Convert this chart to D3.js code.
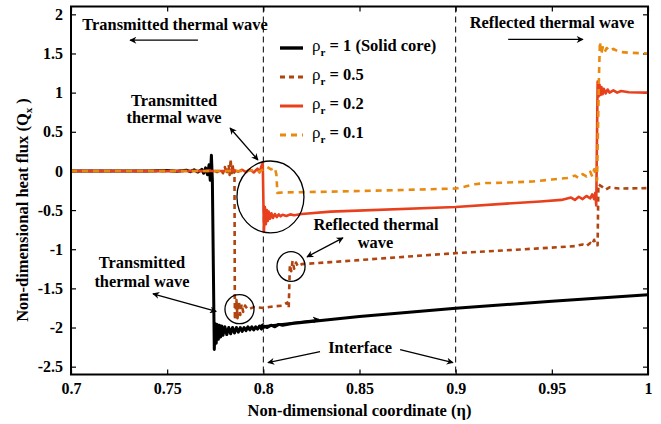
<!DOCTYPE html>
<html>
<head>
<meta charset="utf-8">
<script src="https://cdn.jsdelivr.net/npm/d3@7"></script>
<style>
  html, body { margin: 0; padding: 0; background: #fff; }
  svg { display: block; }
</style>
</head>
<body>
<svg id="chart" width="661" height="424"></svg>
<script>
// Heat flux profiles (eta, Qx) for each density ratio
const solidCore = [
  [0.700,0],[0.740,0],[0.750,0.005],[0.755,-0.005],[0.760,0.01],[0.762,-0.01],[0.764,0.015],[0.766,-0.015],
  [0.768,0.02],[0.769,-0.03],[0.770,0.04],[0.771,-0.05],[0.7718,0.08],[0.7724,-0.12],[0.7730,0.2],[0.7735,-0.12],
  [0.7740,-1.2],[0.7745,-2.28],[0.7750,-1.95],[0.7755,-2.2],[0.7760,-1.96],[0.7766,-2.15],[0.7772,-1.97],
  [0.7778,-2.12],[0.7784,-1.98],[0.779,-2.1],[0.780,-1.99],[0.781,-2.09],[0.782,-2.0],[0.783,-2.08],[0.784,-2.0],
  [0.785,-2.07],[0.786,-2.0],[0.787,-2.06],[0.788,-2.0],[0.789,-2.05],[0.790,-2.0],[0.791,-2.04],[0.792,-1.99],
  [0.793,-2.03],[0.794,-1.99],[0.795,-2.03],[0.796,-1.99],[0.797,-2.02],[0.798,-1.98],[0.799,-2.02],[0.800,-1.98],
  [0.802,-2.0],[0.804,-1.97],[0.806,-1.99],[0.808,-1.96],[0.810,-1.97],[0.815,-1.95],[0.850,-1.86],[0.900,-1.755],
  [0.950,-1.665],[1.000,-1.58]
];
const rho05 = [
  [0.700,0],[0.770,0],[0.774,0.01],[0.776,-0.015],[0.778,0.025],[0.779,-0.03],[0.780,0.05],[0.781,-0.04],
  [0.782,0.08],[0.7825,-0.05],[0.7830,0.15],[0.7835,-0.05],[0.7840,0.09],[0.7845,-0.04],[0.7850,0.0],
  [0.7852,-1.9],[0.7860,-1.65],[0.7866,-1.88],[0.7873,-1.67],[0.7880,-1.84],[0.7887,-1.7],[0.7895,-1.8],
  [0.7905,-1.72],[0.792,-1.77],[0.795,-1.74],[0.800,-1.75],[0.805,-1.73],[0.810,-1.72],[0.8125,-1.68],
  [0.8132,-1.75],[0.8138,-1.2],[0.8145,-1.28],[0.8152,-1.15],[0.816,-1.25],[0.817,-1.17],[0.818,-1.22],
  [0.820,-1.19],[0.835,-1.165],[0.900,-1.05],[0.950,-0.98],[0.962,-0.96],[0.966,-0.94],[0.968,-0.96],
  [0.970,-0.92],[0.971,-0.94],[0.972,-0.88],[0.9728,-0.95],[0.9738,-0.95],[0.9742,-0.17],[0.976,-0.2],
  [0.978,-0.24],[0.980,-0.21],[0.985,-0.225],[1.000,-0.22]
];
const rho02 = [
  [0.700,0],[0.780,0],[0.785,0.01],[0.787,-0.01],[0.789,0.015],[0.791,-0.015],[0.793,0.02],[0.795,-0.02],
  [0.797,0.03],[0.798,-0.02],[0.799,0.06],[0.7997,0.1],[0.8003,-0.78],[0.8008,-0.46],[0.8013,-0.68],
  [0.8018,-0.5],[0.8023,-0.64],[0.8028,-0.52],[0.8035,-0.61],[0.8042,-0.54],[0.805,-0.6],[0.806,-0.55],
  [0.807,-0.59],[0.808,-0.555],[0.809,-0.58],[0.810,-0.56],[0.812,-0.575],[0.814,-0.555],[0.816,-0.565],
  [0.820,-0.55],[0.835,-0.52],[0.900,-0.46],[0.944,-0.39],[0.955,-0.37],[0.960,-0.34],[0.962,-0.37],
  [0.964,-0.33],[0.966,-0.36],[0.968,-0.32],[0.970,-0.35],[0.971,-0.3],[0.972,-0.36],[0.9726,-0.28],
  [0.9731,-0.44],[0.9738,1.14],[0.9743,0.95],[0.9748,1.1],[0.9753,0.97],[0.9758,1.07],[0.9764,0.98],
  [0.977,1.05],[0.978,0.99],[0.979,1.04],[0.980,1.0],[0.982,1.03],[0.984,1.0],[0.986,1.02],[0.990,1.005],
  [1.000,1.0]
];
const rho01 = [
  [0.700,0],[0.790,0],[0.795,0.01],[0.798,-0.01],[0.800,0.02],[0.802,0.05],[0.804,0.02],[0.806,0.04],
  [0.8068,-0.05],[0.8073,-0.28],[0.810,-0.275],[0.835,-0.265],[0.870,-0.245],[0.900,-0.225],[0.905,-0.2],
  [0.910,-0.17],[0.915,-0.155],[0.925,-0.15],[0.940,-0.135],[0.950,-0.11],[0.958,-0.09],[0.962,-0.06],
  [0.964,-0.09],[0.966,-0.04],[0.968,-0.07],[0.970,-0.01],[0.971,-0.07],[0.972,0.02],[0.9735,-0.12],
  [0.9745,1.2],[0.9750,1.65],[0.9757,1.5],[0.9765,1.58],[0.9775,1.52],[0.9785,1.57],[0.980,1.53],
  [0.982,1.56],[0.985,1.52],[0.990,1.51],[1.000,1.5]
];

const xTicks = [0.7, 0.75, 0.8, 0.85, 0.9, 0.95, 1];
const xTickLabels = ["0.7", "0.75", "0.8", "0.85", "0.9", "0.95", "1"];
const yTicks = [-2.5, -2, -1.5, -1, -0.5, 0, 0.5, 1, 1.5, 2];
const yTickLabels = ["-2.5", "-2", "-1.5", "-1", "-0.5", "0", "0.5", "1", "1.5", "2"];
const interfaces = [0.8, 0.9];

const seriesNames = ["1 (Solid core)", "0.5", "0.2", "0.1"];
const seriesData = [solidCore, rho05, rho02, rho01];
const seriesColors = ["#000000", "#b0450f", "#e8401c", "#e98a10"];
const seriesWidths = [3, 2.6, 2.6, 2.6];
const seriesDash = [null, "5,4", null, "6,5"];

const FONT = '"Liberation Serif", "Times New Roman", serif';
const svg = d3.select("#chart");
const plotLeft = 71, plotRight = 648, plotTop = 6.5, plotBottom = 374.5;

const x = d3.scaleLinear().domain([0.7, 1]).range([plotLeft, plotRight]);
const y = d3.scaleLinear().domain([-2.6, 2.1]).range([plotBottom, plotTop]);

function styleText(sel, size) {
  return sel.style("font-family", FONT).style("font-weight", "bold").style("font-size", size + "px").attr("fill", "#000");
}

// arrowhead markers
const defs = svg.append("defs");
defs.append("marker").attr("id", "head").attr("viewBox", "0 0 10 10")
  .attr("refX", 9).attr("refY", 5).attr("markerWidth", 10).attr("markerHeight", 7)
  .attr("markerUnits", "userSpaceOnUse").attr("orient", "auto-start-reverse")
  .append("path").attr("d", "M0,0 L10,5 L0,10 L3,5 Z").attr("fill", "#000");

// axes with inward ticks on all four sides
const fmtX = d => xTickLabels[xTicks.indexOf(d)];
const fmtY = d => yTickLabels[yTicks.indexOf(d)];
const gx = svg.append("g").attr("transform", `translate(0,${plotBottom})`)
  .call(d3.axisBottom(x).tickValues(xTicks).tickFormat(fmtX).tickSizeInner(-5).tickSizeOuter(0).tickPadding(8));
const gxTop = svg.append("g").attr("transform", `translate(0,${plotTop})`)
  .call(d3.axisTop(x).tickValues(xTicks).tickFormat("").tickSizeInner(-5).tickSizeOuter(0));
const gy = svg.append("g").attr("transform", `translate(${plotLeft},0)`)
  .call(d3.axisLeft(y).tickValues(yTicks).tickFormat(fmtY).tickSizeInner(-5).tickSizeOuter(0).tickPadding(8));
const gyRight = svg.append("g").attr("transform", `translate(${plotRight},0)`)
  .call(d3.axisRight(y).tickValues(yTicks).tickFormat("").tickSizeInner(-5).tickSizeOuter(0));
[gx, gxTop, gy, gyRight].forEach(g => {
  g.select(".domain").remove();
  g.selectAll(".tick line").attr("stroke", "#000").attr("stroke-width", 1.2);
  styleText(g.selectAll("text"), 16);
});

// interface lines
svg.append("g").selectAll("line").data(interfaces).join("line")
  .attr("x1", d => x(d)).attr("x2", d => x(d)).attr("y1", plotTop).attr("y2", plotBottom)
  .attr("stroke", "#000").attr("stroke-width", 1).attr("stroke-dasharray", "6,4");

// curves
const line = d3.line().x(d => x(d[0])).y(d => y(d[1]));
const plot = svg.append("g");
seriesData.forEach((s, i) => {
  plot.append("path").datum(s).attr("d", line).attr("fill", "none")
    .attr("stroke", seriesColors[i]).attr("stroke-width", seriesWidths[i])
    .attr("stroke-dasharray", seriesDash[i]).attr("stroke-linejoin", "round");
});

// frame
svg.append("rect").attr("x", plotLeft).attr("y", plotTop)
  .attr("width", plotRight - plotLeft).attr("height", plotBottom - plotTop)
  .attr("fill", "none").attr("stroke", "#000").attr("stroke-width", 2);

// annotation circles (centre eta, centre Qx, half-width in eta, half-height in Qx)
const rings = [[0.8037, -0.332, 0.01742, 0.459], [0.8144, -1.221, 0.0073, 0.19], [0.7876, -1.766, 0.00755, 0.185]];
svg.append("g").selectAll("ellipse").data(rings).join("ellipse")
  .attr("cx", d => x(d[0])).attr("cy", d => y(d[1]))
  .attr("rx", d => x(d[0] + d[2]) - x(d[0])).attr("ry", d => y(d[1] - d[3]) - y(d[1]))
  .attr("fill", "none").attr("stroke", "#000").attr("stroke-width", 1.3);

// annotation arrows: [from eta, from Q, to eta, to Q, double-headed]
const arrows = [
  [0.7660, 1.67, 0.7307, 1.67, false],
  [0.9273, 1.68, 0.9662, 1.68, false],
  [0.7827, 0.548, 0.7972, 0.14, true],
  [0.7426, -1.569, 0.7755, -1.795, true],
  [0.8227, -1.097, 0.8414, -0.855, true],
  [0.7975, -1.985, 0.8290, -1.895, true],
  [0.8295, -2.309, 0.8024, -2.449, false],
  [0.8711, -2.283, 0.8986, -2.449, false]
];
const ag = svg.append("g");
arrows.forEach(a => {
  ag.append("line").attr("x1", x(a[0])).attr("y1", y(a[1])).attr("x2", x(a[2])).attr("y2", y(a[3]))
    .attr("stroke", "#000").attr("stroke-width", 1.3)
    .attr("marker-end", "url(#head)").attr("marker-start", a[4] ? "url(#head)" : null);
});

// annotation labels: [eta, Q, text]
const notes = [
  [0.7541, 1.80, "Transmitted thermal wave"],
  [0.9501, 1.82, "Reflected thermal wave"],
  [0.7536, 0.835, "Transmitted"],
  [0.7536, 0.606, "thermal wave"],
  [0.7369, -1.244, "Transmitted"],
  [0.7369, -1.486, "thermal wave"],
  [0.8586, -0.759, "Reflected thermal"],
  [0.8583, -0.989, "wave"],
  [0.8503, -2.328, "Interface"]
];
styleText(svg.append("g").selectAll("text").data(notes).join("text")
  .attr("x", d => x(d[0])).attr("y", d => y(d[1])).attr("text-anchor", "middle").text(d => d[2]), 16.4);

// legend
const lg = svg.append("g").attr("transform", "translate(280,48)");
seriesNames.forEach((name, i) => {
  const row = lg.append("g").attr("transform", `translate(0,${i * 29})`);
  row.append("line").attr("x1", 0).attr("x2", 23).attr("y1", 0).attr("y2", 0)
    .attr("stroke", seriesColors[i]).attr("stroke-width", seriesWidths[i] + 0.4)
    .attr("stroke-dasharray", seriesDash[i]);
  const t = styleText(row.append("text").attr("x", 32).attr("y", 2.5), 16.5);
  t.append("tspan").style("font-weight", "normal").style("font-size", "17px").text("ρ");
  t.append("tspan").style("font-size", "11px").attr("dy", 5).text("r");
  t.append("tspan").attr("dy", -5).text(" = " + name);
});

// axis titles
styleText(svg.append("text").attr("x", (plotLeft + plotRight) / 2).attr("y", 416).attr("text-anchor", "middle"), 16.5)
  .text("Non-dimensional coordinate (η)");
const yl = styleText(svg.append("text").attr("transform", `translate(28,210) rotate(-90)`)
  .attr("text-anchor", "middle"), 16.5);
yl.append("tspan").text("Non-dimensional heat flux (Q");
yl.append("tspan").style("font-size", "11px").attr("dy", 4).text("x");
yl.append("tspan").attr("dy", -4).text(" )");
</script>
</body>
</html>
